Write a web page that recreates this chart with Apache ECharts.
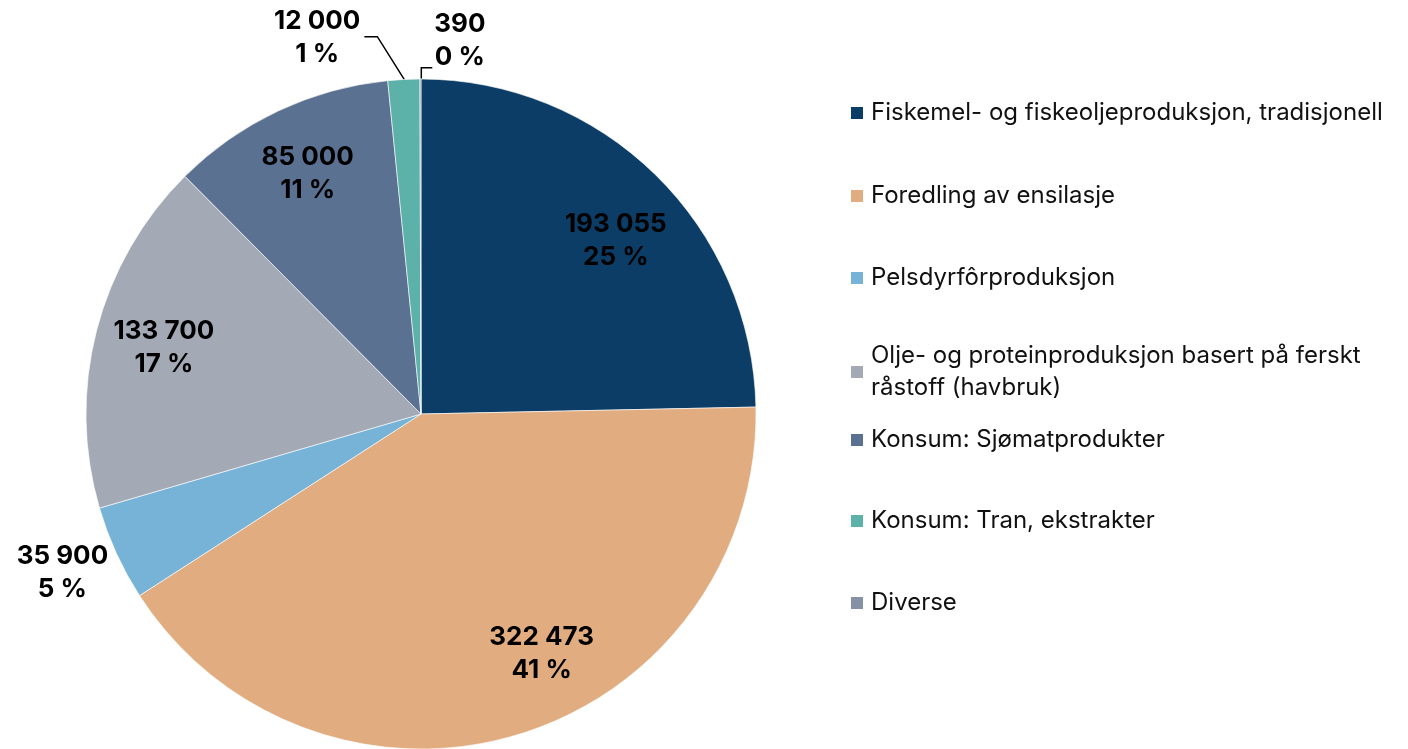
<!DOCTYPE html>
<html>
<head>
<meta charset="utf-8">
<script src="https://cdn.jsdelivr.net/npm/echarts@6/dist/echarts.min.js"></script>
<style>
    html, body { margin: 0; padding: 0; background: #fff; }
    #chart { width: 1408px; height: 749px; }
</style>
</head>
<body>
<div id="chart"></div>
<script>
const categories = [
    'Fiskemel- og fiskeoljeproduksjon, tradisjonell',
    'Foredling av ensilasje',
    'Pelsdyrfôrproduksjon',
    'Olje- og proteinproduksjon basert på ferskt\nråstoff (havbruk)',
    'Konsum: Sjømatprodukter',
    'Konsum: Tran, ekstrakter',
    'Diverse'
];
const values = [193055, 322473, 35900, 133700, 85000, 12000, 390];
const percentLabels = [25, 41, 5, 17, 11, 1, 0];
const colors = ['#0b3d66', '#e1ad80', '#76b3d7', '#a3a9b5', '#5b7191', '#5cb1a8', '#8592a6'];

// small slices get their label outside the pie
const outsideIdx = [2, 5, 6];

function fmtNumber(v) {
    return String(v).replace(/\B(?=(\d{3})+(?!\d))/g, ' ');
}
function labelText(i) {
    return fmtNumber(values[i]) + '\n' + percentLabels[i] + ' %';
}

const center = [421, 414];
const R = 335;
const labelFont = { fontFamily: 'Inter', fontWeight: 'bold', fontSize: 26, lineHeight: 33, color: '#000' };

// marker centre y of each legend row
const legendRowY = [110, 193, 275, 357, 437, 518, 600];

const chart = echarts.init(document.getElementById('chart'));

const mainSeries = {
    type: 'pie',
    center: center,
    radius: [0, R],
    startAngle: 90,
    clockwise: true,
    silent: true,
    avoidLabelOverlap: false,
    itemStyle: { borderColor: '#fff', borderWidth: 0.6 },
    label: Object.assign({ show: false, formatter: (p) => labelText(p.dataIndex) }, labelFont),
    labelLine: { show: false, lineStyle: { color: '#000', width: 1.5 } },
    data: categories.map((name, i) => {
        const d = { name: name, value: values[i], itemStyle: { color: colors[i] } };
        if (outsideIdx.includes(i)) {
            d.label = { show: true, position: 'outside' };
            d.labelLine = { show: i !== 2, length: 10, length2: 10 };
        }
        return d;
    }),
    labelLayout: function (p) {
        const r = p.rect;
        const w = p.labelRect.width;
        if (p.dataIndex === 5) {
            const px = r.x + r.width / 2, py = r.y + 1;
            return {
                x: px - 44 - w / 2, y: py - 42, align: 'center', verticalAlign: 'middle',
                labelLinePoints: [[px, py], [px - 27, py - 43], [px - 40, py - 43]]
            };
        }
        if (p.dataIndex === 6) {
            const px = r.x + r.width, py = r.y;
            return {
                x: px + 13 + w / 2, y: py - 38, align: 'center', verticalAlign: 'middle',
                labelLinePoints: [[px, py], [px, py - 11], [px + 11, py - 11]]
            };
        }
        if (p.dataIndex === 2) {
            return { x: r.x + 9 - w / 2, y: r.y + r.height - 23, align: 'center', verticalAlign: 'middle' };
        }
    }
};

// transparent ring only used to place the inner labels further out
const labelSeries = {
    type: 'pie',
    center: center,
    radius: [190, R],
    startAngle: 90,
    clockwise: true,
    silent: true,
    avoidLabelOverlap: false,
    itemStyle: { color: 'rgba(0,0,0,0)', borderWidth: 0 },
    label: Object.assign({ show: true, position: 'inside', formatter: (p) => labelText(p.dataIndex) }, labelFont),
    labelLine: { show: false },
    data: categories.map((name, i) => ({
        name: name, value: values[i], label: { show: !outsideIdx.includes(i) }
    })),
    labelLayout: function (p) {
        if (p.dataIndex === 0) return { dx: 9, dy: 16 };
        if (p.dataIndex === 1) return { dx: 43, dy: -14 };
    }
};

const option = {
    animation: false,
    color: colors,
    legend: categories.map((name, i) => ({
        data: [name],
        orient: 'vertical',
        left: 849,
        top: legendRowY[i] - 13,
        padding: 0,
        itemWidth: 14,
        itemHeight: 14,
        icon: 'rect',
        selectedMode: false,
        textStyle: {
            fontFamily: 'Inter', fontSize: 24, lineHeight: 32, color: '#111',
            padding: i === 3 ? [-32, 0, 0, 2] : [0, 0, 0, 2]
        }
    })),
    series: [mainSeries, labelSeries]
};

chart.setOption(option);
</script>
</body>
</html>
